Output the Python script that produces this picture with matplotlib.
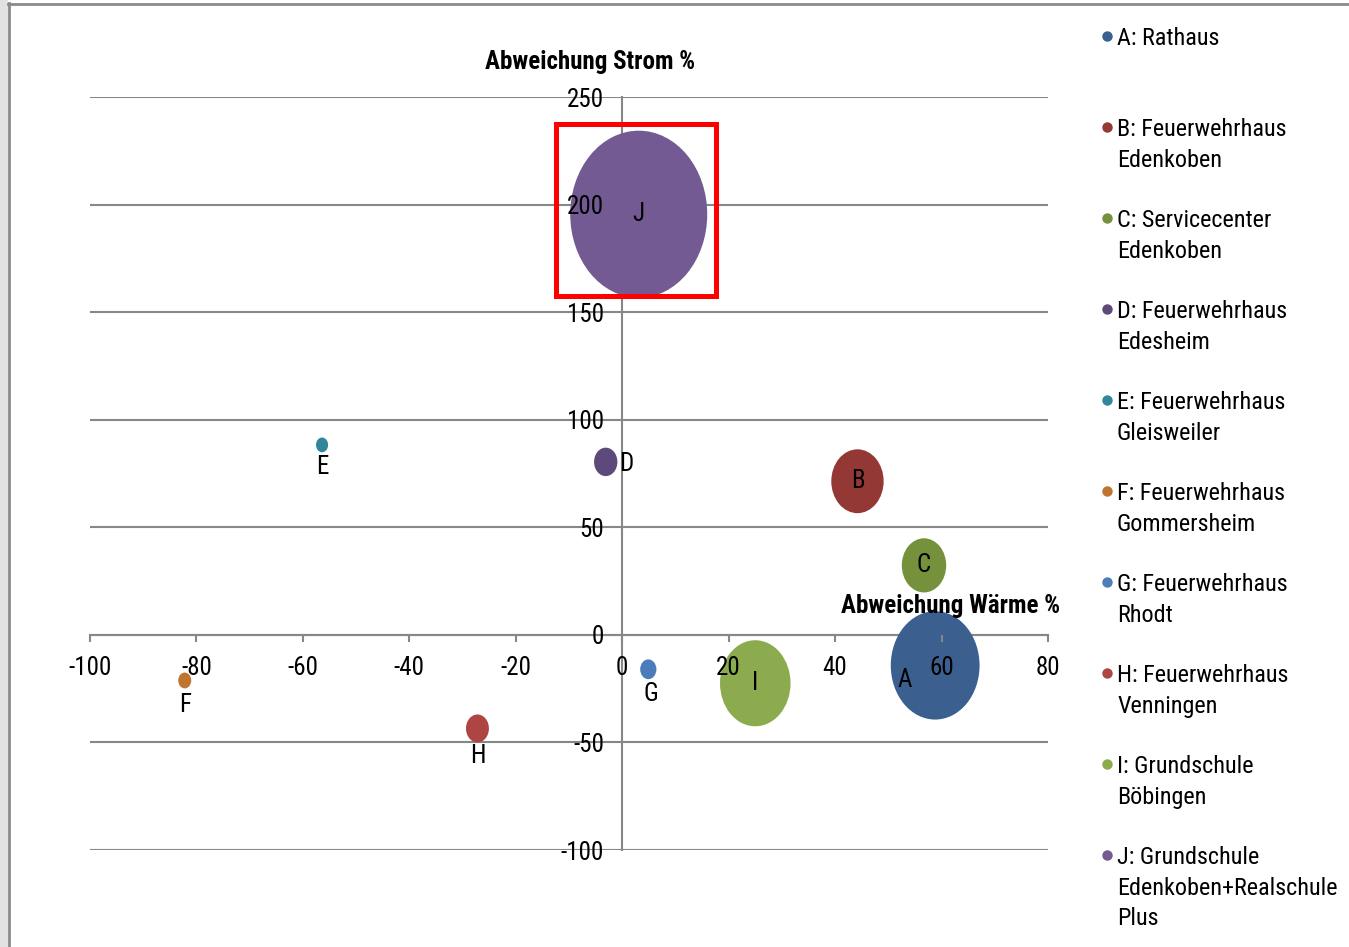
import matplotlib
matplotlib.use("Agg")
import matplotlib.pyplot as plt
from matplotlib import font_manager
from matplotlib.patches import Ellipse, Rectangle
import numpy as np

# data
names = ["A", "B", "C", "D", "E", "F", "G", "H", "I", "J"]
legend_labels = [
    "A: Rathaus",
    "B: Feuerwehrhaus\nEdenkoben",
    "C: Servicecenter\nEdenkoben",
    "D: Feuerwehrhaus\nEdesheim",
    "E: Feuerwehrhaus\nGleisweiler",
    "F: Feuerwehrhaus\nGommersheim",
    "G: Feuerwehrhaus\nRhodt",
    "H: Feuerwehrhaus\nVenningen",
    "I: Grundschule\nBöbingen",
    "J: Grundschule\nEdenkoben+Realschule\nPlus",
]
waerme = [58.8, 44.2, 56.7, -3.1, -56.4, -82.2, 4.9, -27.2, 25.0, 3.1]
strom = [-14.2, 71.4, 32.3, 80.4, 88.3, -21.2, -16.0, -43.5, -22.5, 195.5]
bubble = [42.0, 14.6, 10.5, 2.9, 0.78, 0.9, 1.4, 2.8, 26.5, 100.0]
colors = ["#3B5F8F", "#933835", "#76913C", "#5E4A7A", "#31869B",
          "#BF7430", "#4A7DBA", "#AE4543", "#8BAB4E", "#735A92"]
xticks = [-100, -80, -60, -40, -20, 0, 20, 40, 60, 80]
yticks = [-100, -50, 0, 50, 100, 150, 200, 250]
highlight = (-12.5, 157.6, 17.6, 237.3)  # x0, y0, x1, y1 of red box around J

# label offsets in pixels (dx, dy), default centered
label_offsets = {"A": (-30, -15), "D": (21, -2), "E": (0, -22), "F": (0, -25),
                 "G": (3, -25), "H": (0, -28)}

# the original uses a narrow Arial; look for some condensed sans
entries = font_manager.fontManager.ttflist
names_avail = {f.name for f in entries}
base_font, stretch, fs = "Liberation Sans", "normal", 15.5
for cand in ["Liberation Sans Narrow", "Arial Narrow", "Roboto Condensed",
             "Open Sans Condensed", "Noto Sans Condensed"]:
    if cand in names_avail:
        base_font, stretch, fs = cand, "normal", 18.0
        break
else:
    for fam in ["Roboto", "Noto Sans", "Open Sans"]:
        if any(f.name == fam and f.stretch == "condensed" for f in entries):
            base_font, stretch, fs = fam, "condensed", 18.0
            break
plt.rcParams["font.family"] = [base_font, "DejaVu Sans"]
plt.rcParams["font.stretch"] = stretch

W, H, DPI = 1349, 947, 100
fig = plt.figure(figsize=(W / DPI, H / DPI), dpi=DPI, facecolor="white")

# overlay for frame and legend, pixel coordinates
lax = fig.add_axes([0, 0, 1, 1], zorder=-1)
lax.set_xlim(0, W)
lax.set_ylim(H, 0)
lax.axis("off")
lax.add_patch(Rectangle((0, 0), 8, H, color="#e2e2e2", lw=0))
lax.plot([8, W], [3.5, 3.5], color="#8a8a8a", lw=2)
lax.plot([8.5, 8.5], [3, H], color="#8a8a8a", lw=2)

ax = fig.add_axes([90 / W, 97 / H, 958 / W, 753 / H])
ax.set_xlim(-100, 80)
ax.set_ylim(-100, 250)
ax.patch.set_alpha(0)

grid_color = "#878787"
ax.hlines(yticks, -100, 80, color=grid_color, lw=1.5, zorder=0.5)
for side in ["top", "right"]:
    ax.spines[side].set_visible(False)
ax.spines["left"].set_position(("data", 0))
ax.spines["bottom"].set_position(("data", 0))
for side in ["left", "bottom"]:
    ax.spines[side].set_color(grid_color)
    ax.spines[side].set_linewidth(1.5)
    ax.spines[side].set_zorder(0.5)

ax.set_xticks(xticks)
ax.set_yticks(yticks)
ax.set_xticklabels([str(v) for v in xticks])
ax.set_yticklabels([str(v) for v in yticks])
ax.tick_params(axis="x", direction="out", length=5, width=1.5, color=grid_color,
               pad=10.5, labelsize=fs)
ax.tick_params(axis="y", length=0, pad=13, labelsize=fs)

# bubble ellipses, radius from bubble size (area)
ppx = 958 / 180
ppy = 753 / 350
r_max = 68.5
for n, x, y, s, c in zip(names, waerme, strom, bubble, colors):
    r = r_max * np.sqrt(s / 100.0)
    ax.add_patch(Ellipse((x, y), 2 * r / ppx, 2 * r * 1.22 / ppy,
                         facecolor=c, edgecolor="none", zorder=1))
    dx, dy = label_offsets.get(n, (0, 0))
    ax.annotate(n, (x, y), xytext=(dx * 0.72, dy * 0.72), textcoords="offset points",
                ha="center", va="center", fontsize=fs, zorder=3)

x0, y0, x1, y1 = highlight
ax.add_patch(Rectangle((x0, y0), x1 - x0, y1 - y0, fill=False,
                       edgecolor="#ff0000", lw=3.6, zorder=4))

fig.text(590 / W, 1 - 62 / H, "Abweichung Strom %", ha="center", va="center",
         fontsize=fs, fontweight="bold")
fig.text(1060 / W, 1 - 606 / H, "Abweichung Wärme %", ha="right", va="center",
         fontsize=fs, fontweight="bold")

# legend
for i, (lab, c) in enumerate(zip(legend_labels, colors)):
    ypix = 36 + 91 * i
    lax.plot([1107], [ypix], "o", color=c, markersize=7.5, mec="none")
    for k, line in enumerate(lab.split("\n")):
        lax.text(1117, ypix + 30.5 * k, line, ha="left", va="center_baseline",
                 fontsize=fs - 0.6)

fig.savefig("out.png", dpi=DPI, facecolor="white")
